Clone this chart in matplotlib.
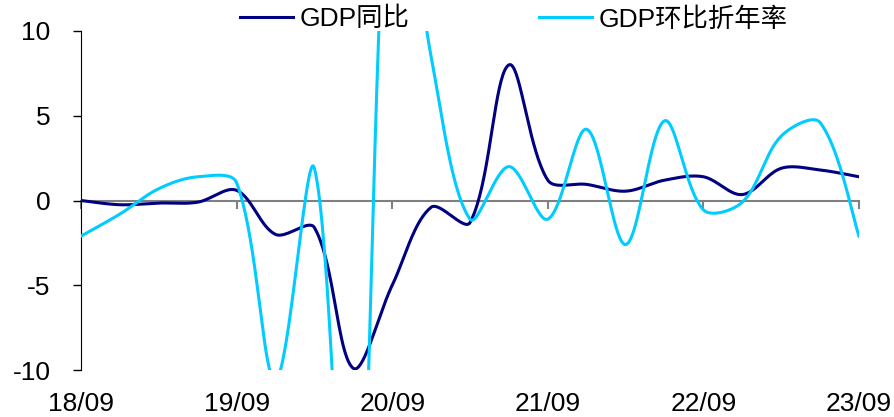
import numpy as np
import matplotlib.pyplot as plt

quarters = ['18/09', '18/12', '19/03', '19/06', '19/09', '19/12', '20/03', '20/06',
            '20/09', '20/12', '21/03', '21/06', '21/09', '21/12', '22/03', '22/06',
            '22/09', '22/12', '23/03', '23/06', '23/09']
gdp_yoy = [0.0, -0.25, -0.15, -0.1, 0.6, -2.0, -1.6, -9.9, -5.0, -0.4, -1.3,
           8.0, 1.2, 0.95, 0.55, 1.2, 1.4, 0.35, 1.9, 1.8, 1.4]
gdp_qoq_ann = [-2.1, -0.8, 0.7, 1.4, 1.05, -10.6, 1.9, -28.0, 23.0, 8.5, -1.1,
               2.0, -1.1, 4.2, -2.6, 4.7, -0.55, -0.1, 3.8, 4.6, -2.1]
tick_labels = ['18/09', '19/09', '20/09', '21/09', '22/09', '23/09']

plt.rcParams['font.family'] = ['Liberation Sans', 'Noto Sans CJK SC']
plt.rcParams['axes.unicode_minus'] = False

YPX = 16.95 / 38.9  # screen aspect: one y unit against one quarter


def smooth(y, n=40):
    # excel-like smoothed line: bezier segments, control arms scaled by chord length
    y = np.asarray(y, float)
    x = np.arange(len(y), dtype=float)
    P = np.column_stack([x, y])
    S = np.column_stack([x, y * YPX])
    m = len(y)
    out_c, in_c = [], []
    for i in range(m):
        a = max(i - 1, 0)
        b = min(i + 1, m - 1)
        T = P[b] - P[a]
        dp = np.hypot(*(S[i] - S[a])) if i > 0 else 0.0
        dn = np.hypot(*(S[b] - S[i])) if i < m - 1 else 0.0
        tot = dp + dn
        if i == 0 or i == m - 1:
            out_c.append(P[i] + T / 6)
            in_c.append(P[i] - T / 6)
        else:
            out_c.append(P[i] + T * dn / tot / 3)
            in_c.append(P[i] - T * dp / tot / 3)
    t = np.linspace(0, 1, n)[:, None]
    segs = []
    for i in range(m - 1):
        p0, c1, c2, p3 = P[i], out_c[i], in_c[i + 1], P[i + 1]
        segs.append((1 - t)**3 * p0 + 3 * (1 - t)**2 * t * c1
                    + 3 * (1 - t) * t**2 * c2 + t**3 * p3)
    pts = np.vstack(segs)
    return pts[:, 0], pts[:, 1]


fig = plt.figure(figsize=(8.95, 4.17), dpi=100)
ax = fig.add_axes([81/895, 1 - 370/417, (859 - 81)/895, 339/417])

x1, y1 = smooth(gdp_yoy)
x2, y2 = smooth(gdp_qoq_ann)
ax.plot(x1, y1, color='#000080', lw=2.2, label='GDP同比', zorder=3)
ax.plot(x2, y2, color='#00CCFF', lw=2.2, label='GDP环比折年率', zorder=3)

ax.set_xlim(0, len(quarters) - 1)
ax.set_ylim(-10, 10)
ax.set_yticks([-10, -5, 0, 5, 10])
ax.tick_params(axis='y', length=6, width=1, direction='out', labelsize=19, pad=16)

ax.spines['top'].set_visible(False)
ax.spines['right'].set_visible(False)
ax.spines['left'].set_color('black')
ax.spines['bottom'].set_position(('data', 0))
ax.spines['bottom'].set_color('#808080')
ax.spines['bottom'].set_linewidth(1.5)
ax.spines['bottom'].set_zorder(1)

tick_pos = [quarters.index(q) for q in tick_labels]
ax.set_xticks(tick_pos)
ax.tick_params(axis='x', length=6, width=1.5, color='#808080', direction='out',
               labelbottom=False)

sec = ax.secondary_xaxis('bottom')
sec.set_xticks(tick_pos)
sec.set_xticklabels(tick_labels)
sec.tick_params(length=0, labelsize=19, pad=16)
sec.spines['bottom'].set_visible(False)

ax.legend(loc='center', bbox_to_anchor=(0.574, 0.954), bbox_transform=fig.transFigure,
          ncol=2, frameon=False, fontsize=19, handlelength=2.0, handletextpad=0.25,
          columnspacing=4.9, borderpad=0, borderaxespad=0)

fig.savefig('out.png', dpi=100)
